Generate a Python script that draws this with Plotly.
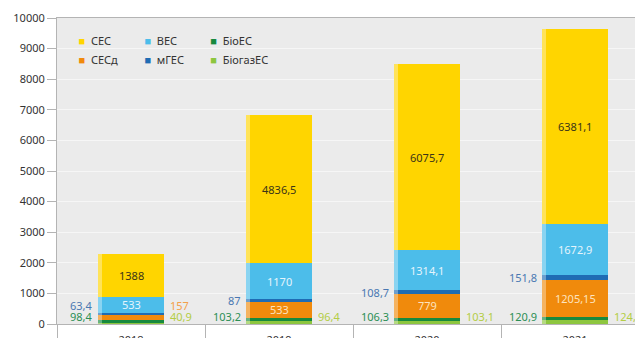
import plotly.graph_objects as go

years = ["2018", "2019", "2020", "2021"]
ses = [1388, 4836.5, 6075.7, 6381.1]          # СЕС
sesd = [157, 533, 779, 1205.15]               # СЕСд
ves = [533, 1170, 1314.1, 1672.9]             # ВЕС
mges = [63.4, 87, 108.7, 151.8]               # мГЕС
bioes = [98.4, 103.2, 106.3, 120.9]           # БіоЕС
biogazes = [40.9, 96.4, 103.1, 124.1]         # БіогазЕС
y_ticks = [0, 1000, 2000, 3000, 4000, 5000, 6000, 7000, 8000, 9000, 10000]

FONT = "Noto Sans"
# stack order bottom -> top
series = [
    ("БіогазЕС", biogazes, "#8dc63f"),
    ("БіоЕС", bioes, "#17893e"),
    ("СЕСд", sesd, "#f08a0c"),
    ("мГЕС", mges, "#1f6cb4"),
    ("ВЕС", ves, "#4cbdea"),
    ("СЕС", ses, "#ffd500"),
]
colors = {n: c for n, _, c in series}


def fmt(v):
    return f"{v:g}".replace(".", ",")


fig = go.Figure()
BW = 0.45
for name, vals, col in series:
    fig.add_trace(go.Bar(x=years, y=vals, name=name, marker_color=col,
                         marker_line_width=0, width=BW, showlegend=False,
                         hoverinfo="skip"))
    # light highlight strip on the left side of each bar
    fig.add_trace(go.Bar(x=years, y=vals, xaxis="x2", marker_color="rgba(255,255,255,0.35)",
                         marker_line_width=0, width=0.03, offset=-BW / 2,
                         showlegend=False, hoverinfo="skip"))

# legend entries: three columns of two rows; coloured square drawn as text glyph
legend_cols = [("legend", ["СЕС", "СЕСд"]), ("legend2", ["ВЕС", "мГЕС"]),
               ("legend3", ["БіоЕС", "БіогазЕС"])]
for lg, names in legend_cols:
    for i, n in enumerate(names):
        label = f"<span style='color:{colors[n]}'>■</span>  {n}"
        fig.add_trace(go.Scatter(x=[None], y=[None], mode="markers", name=label,
                                 marker=dict(symbol="square", size=8, color="rgba(0,0,0,0)"),
                                 legend=lg, legendrank=i + 1, showlegend=True))

# cumulative bottoms
ann = []
n_years = len(years)
bottoms = {}
acc = [0.0] * n_years
for name, vals, col in series:
    bottoms[name] = acc[:]
    acc = [a + v for a, v in zip(acc, vals)]


def mid(name, vals, i):
    return bottoms[name][i] + vals[i] / 2


HALF = 33.5 + 3
ROW_LOW = 230
ROW_HIGH = 620
for i, yr in enumerate(years):
    xi = i  # category index position
    # inside labels
    ann.append(dict(x=xi, y=mid("СЕС", ses, i), text=fmt(ses[i]), showarrow=False,
                    font=dict(color="#3a3418", size=11, family=FONT)))
    ann.append(dict(x=xi, y=mid("ВЕС", ves, i), text=fmt(ves[i]), showarrow=False,
                    font=dict(color="#e4f4fc", size=11, family=FONT)))
    if sesd[i] > 300:
        ann.append(dict(x=xi, y=mid("СЕСд", sesd, i), text=fmt(sesd[i]), showarrow=False,
                        font=dict(color="#fde3bf", size=11, family=FONT)))
    else:
        ann.append(dict(x=xi, y=max(mid("СЕСд", sesd, i), ROW_HIGH), text=fmt(sesd[i]),
                        showarrow=False, xanchor="left", xshift=HALF,
                        font=dict(color="#f3a04a", size=11, family=FONT)))
    # left outside labels
    ann.append(dict(x=xi, y=max(mid("мГЕС", mges, i), ROW_HIGH), text=fmt(mges[i]),
                    showarrow=False, xanchor="right", xshift=-HALF,
                    font=dict(color="#4a78b2", size=11, family=FONT)))
    ann.append(dict(x=xi, y=max(mid("БіоЕС", bioes, i), ROW_LOW), text=fmt(bioes[i]),
                    showarrow=False, xanchor="right", xshift=-HALF,
                    font=dict(color="#2b8f55", size=11, family=FONT)))
    # right outside label
    ann.append(dict(x=xi, y=max(mid("БіогазЕС", biogazes, i), ROW_LOW), text=fmt(biogazes[i]),
                    showarrow=False, xanchor="left", xshift=HALF,
                    font=dict(color="#b3cd45", size=11, family=FONT)))

for a in ann:
    a["yanchor"] = "middle"
    a["xref"] = "x"
    a["yref"] = "y"

leg_common = dict(orientation="v", bgcolor="rgba(0,0,0,0)", itemwidth=30,
                  xanchor="left", yanchor="middle", traceorder="normal",
                  font=dict(family=FONT, size=11, color="#333333"), tracegroupgap=0)

fig.update_layout(
    width=635, height=338,
    margin=dict(l=57, r=0, t=18, b=14),
    paper_bgcolor="white", plot_bgcolor="#ebebeb",
    barmode="stack",
    font=dict(family=FONT, size=11, color="#333333"),
    annotations=ann,
    legend=dict(x=-0.032, y=0.895, **leg_common),
    legend2=dict(x=0.082, y=0.895, **leg_common),
    legend3=dict(x=0.196, y=0.895, **leg_common),
    xaxis=dict(type="category", categoryarray=years, categoryorder="array",
               range=[-0.5, 3.405], tickson="boundaries", ticks="outside", ticklen=14,
               tickcolor="#b4b4b4", showline=True, linecolor="#b4b4b4", mirror=True,
               showgrid=False, ticklabelstandoff=6, automargin=False,
               tickfont=dict(family=FONT, size=11, color="#333333")),
    xaxis2=dict(type="category", categoryarray=years, categoryorder="array",
                range=[-0.5, 3.405], overlaying="x", visible=False),
    yaxis=dict(range=[0, 10000], tickvals=y_ticks, tickformat="d", ticks="outside", ticklen=9,
               tickcolor="#b4b4b4", showline=True, linecolor="#b4b4b4",
               gridcolor="#f6f6f6", gridwidth=1, zeroline=False, automargin=False,
               tickfont=dict(family=FONT, size=11, color="#333333")),
)

fig.write_html("out.html")
